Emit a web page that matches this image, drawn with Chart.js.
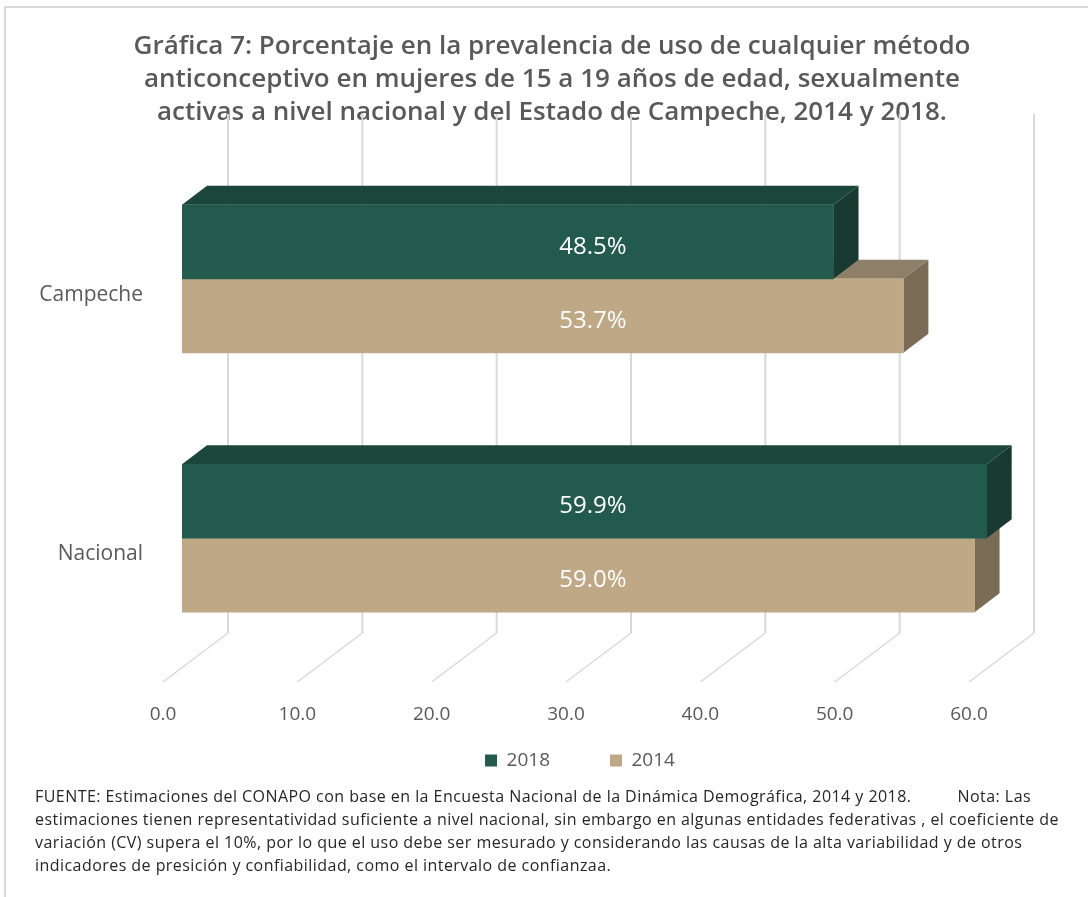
<!DOCTYPE html>
<html>
<head>
<meta charset="utf-8">
<script src="https://cdn.jsdelivr.net/npm/chart.js@4"></script>
<style>
  body { margin: 0; background: #fff; }
  #wrap { position: relative; width: 1088px; height: 897px; overflow: hidden; font-family: "Open Sans", sans-serif; }
  #frame { position: absolute; left: 4px; top: 6px; width: 1200px; height: 1000px; border-top: 2px solid #d9d9d9; border-left: 2px solid #d9d9d9; }
  #chart { position: absolute; left: 0; top: 0; }
  #nota { position: absolute; left: 35px; top: 785px; font-size: 16px; letter-spacing: 0.45px; line-height: 23px; color: #262626; white-space: pre; }
</style>
</head>
<body>
<div id="wrap">
  <div id="frame"></div>
  <canvas id="chart" width="1088" height="827"></canvas>
  <div id="nota">FUENTE: Estimaciones del CONAPO con base en la Encuesta Nacional de la Dinámica Demográfica, 2014 y 2018.          Nota: Las
estimaciones tienen representatividad suficiente a nivel nacional, sin embargo en algunas entidades federativas , el coeficiente de
variación (CV) supera el 10%, por lo que el uso debe ser mesurado y considerando las causas de la alta variabilidad y de otros
indicadores de presición y confiabilidad, como el intervalo de confianzaa.</div>
</div>
<script>
const categories = ["Campeche", "Nacional"];
const seriesNames = ["2018", "2014"];
const values2018 = [48.5, 59.9];
const values2014 = [53.7, 59.0];
const frontColors = ["#225B4E", "#BEA885"];
const topColors = ["#1B463B", "#8E8068"];
const sideColors = ["#183A31", "#7A6C55"];
const titleLines = [
    "Gráfica 7: Porcentaje en la prevalencia de uso de cualquier método",
    "anticonceptivo en mujeres de 15 a 19 años de edad, sexualmente",
    "activas a nivel nacional y del Estado de Campeche, 2014 y 2018."
];

// depth of the 3D look
const barDx = 25, barDy = 19;
const wallDx = 46, floorDx = -19, wallTop = 114, wallBottom = 633, floorBottom = 682;

Chart.defaults.font.family = "'Open Sans', sans-serif";
Chart.defaults.color = "#595959";

const threeD = {
    id: "threeD",
    afterLayout(chart) {
        // Excel centres title and legend on a wider box than the plot
        chart.titleBlock.left += 58;
        chart.titleBlock.right += 58;
        const lg = chart.legend;
        const up = lg.top - 691;
        lg.left += 86;
        lg.right += 86;
        lg.top -= up;
        lg.bottom -= up;
    },
    beforeDatasetsDraw(chart) {
        const ctx = chart.ctx;
        const xs = chart.scales.x;
        ctx.save();
        ctx.strokeStyle = "#d9d9d9";
        xs.ticks.forEach(t => {
            const px = xs.getPixelForValue(t.value);
            ctx.lineWidth = 2;
            ctx.beginPath();
            ctx.moveTo(px + wallDx, wallTop);
            ctx.lineTo(px + wallDx, wallBottom);
            ctx.stroke();
            ctx.lineWidth = 1.5;
            ctx.beginPath();
            ctx.moveTo(px + wallDx, wallBottom);
            ctx.lineTo(px + floorDx, floorBottom);
            ctx.stroke();
        });
        // side faces, back series first so the front series covers them
        for (let i = chart.data.datasets.length - 1; i >= 0; i--) {
            chart.getDatasetMeta(i).data.forEach(el => {
                const p = el.getProps(["x", "y", "base", "height"], true);
                const top = p.y - p.height / 2, bottom = p.y + p.height / 2;
                ctx.fillStyle = topColors[i];
                ctx.beginPath();
                ctx.moveTo(p.base, top);
                ctx.lineTo(p.base + barDx, top - barDy);
                ctx.lineTo(p.x + barDx, top - barDy);
                ctx.lineTo(p.x, top);
                ctx.closePath();
                ctx.fill();
                ctx.fillStyle = sideColors[i];
                ctx.beginPath();
                ctx.moveTo(p.x, top);
                ctx.lineTo(p.x + barDx, top - barDy);
                ctx.lineTo(p.x + barDx, bottom - barDy);
                ctx.lineTo(p.x, bottom);
                ctx.closePath();
                ctx.fill();
            });
        }
        ctx.restore();
    },
    afterDatasetsDraw(chart) {
        const ctx = chart.ctx;
        const xs = chart.scales.x;
        const cx = (xs.getPixelForValue(0) + xs.getPixelForValue(60)) / 2 + 8;
        ctx.save();
        ctx.fillStyle = "#ffffff";
        ctx.font = "24px 'Open Sans', sans-serif";
        ctx.textAlign = "center";
        ctx.textBaseline = "middle";
        chart.data.datasets.forEach((ds, i) => {
            chart.getDatasetMeta(i).data.forEach((el, j) => {
                ctx.fillText(ds.data[j].toFixed(1) + "%", cx, el.y + 5);
            });
        });
        ctx.restore();
    }
};

new Chart(document.getElementById("chart"), {
    type: "bar",
    data: {
        labels: categories,
        datasets: [
            { label: seriesNames[0], data: values2018, backgroundColor: frontColors[0], barThickness: 74 },
            { label: seriesNames[1], data: values2014, backgroundColor: frontColors[1], barThickness: 74 }
        ]
    },
    options: {
        indexAxis: "y",
        responsive: false,
        animation: false,
        devicePixelRatio: 1,
        layout: { padding: { left: 0, right: 100, top: 0, bottom: 10 } },
        scales: {
            x: {
                min: 0, max: 60,
                grid: { display: false, drawTicks: false },
                border: { display: false },
                ticks: {
                    stepSize: 10,
                    padding: 35,
                    labelOffset: -19,
                    font: { size: 19 },
                    color: "#595959",
                    callback: v => v.toFixed(1)
                },
                afterFit(scale) { scale.height = 60; }
            },
            y: {
                grid: { display: false, drawTicks: false },
                border: { display: false },
                ticks: { padding: 39, labelOffset: 16, font: { size: 21 }, color: "#595959" },
                afterFit(scale) { scale.width = 182; }
            }
        },
        plugins: {
            title: {
                display: true,
                text: titleLines,
                color: "#595959",
                font: { size: 26, weight: "600", lineHeight: 1.27 },
                padding: { top: 30, bottom: 20 }
            },
            legend: {
                position: "bottom",
                labels: { boxWidth: 12, boxHeight: 12, padding: 60, font: { size: 19 }, color: "#595959" }
            },
            tooltip: { enabled: false }
        }
    },
    plugins: [threeD]
});
</script>
</body>
</html>
